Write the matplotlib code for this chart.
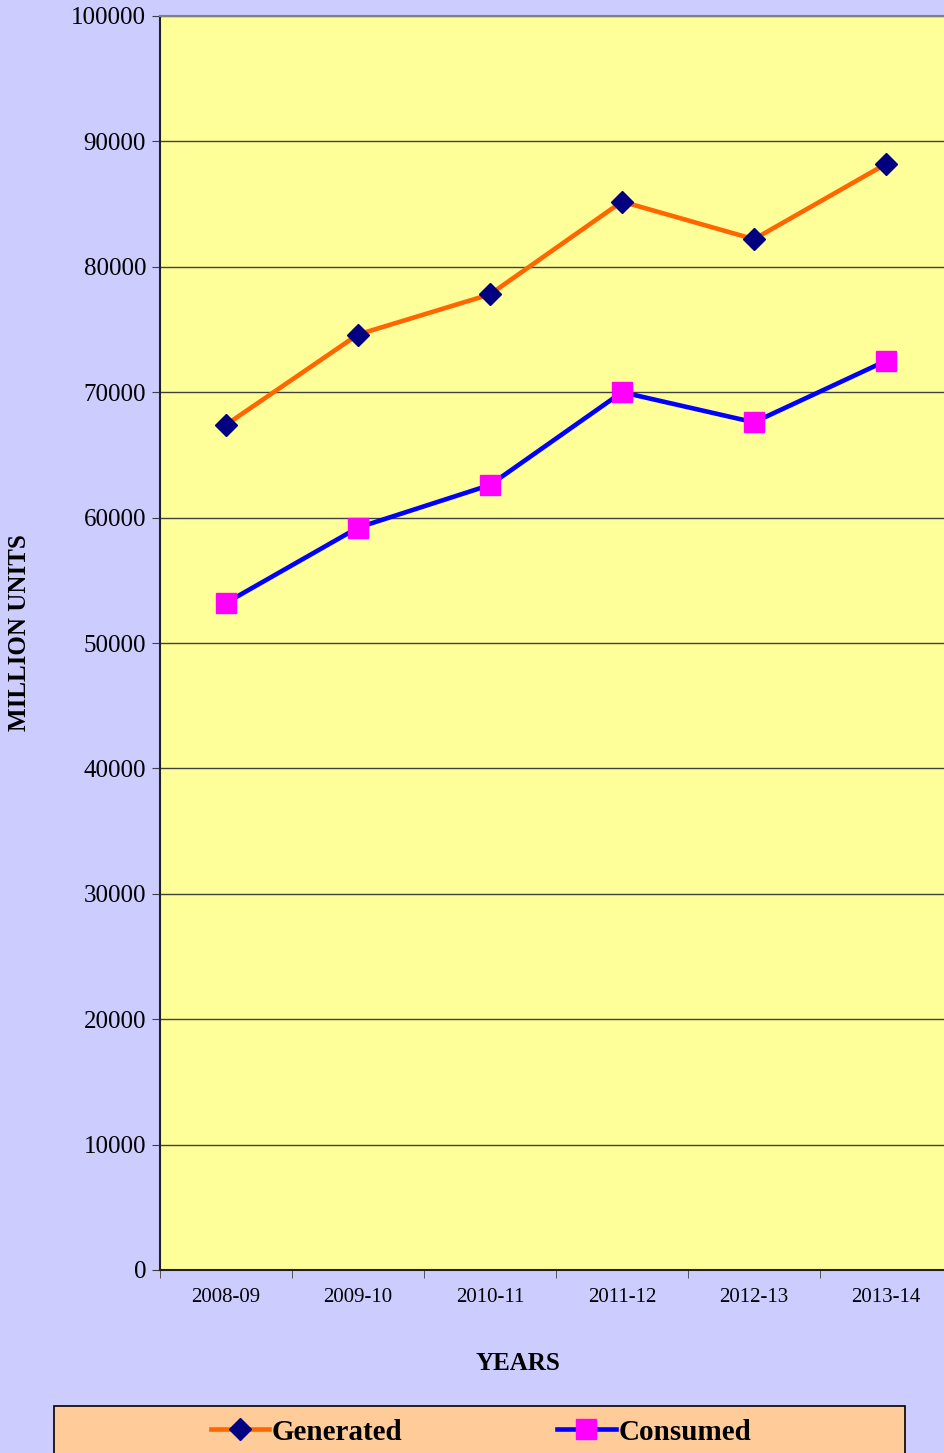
import matplotlib
matplotlib.use("Agg")
import matplotlib.pyplot as plt
from matplotlib.lines import Line2D
from matplotlib.patches import Rectangle

years = ["2008-09", "2009-10", "2010-11", "2011-12", "2012-13", "2013-14"]
generated = [67400, 74600, 77800, 85200, 82200, 88200]
consumed = [53200, 59200, 62600, 70000, 67600, 72500]
yticks = list(range(0, 100001, 10000))

BG = "#CCCCFF"
PLOT_BG = "#FFFF99"
LEG_BG = "#FFCC99"
plt.rcParams["font.family"] = ["Liberation Serif", "DejaVu Serif"]

W, H = 945, 1453
f = plt.figure(figsize=(W / 100, H / 100), dpi=100)
f.patch.set_facecolor(BG)
ax = f.add_axes([160 / W, (H - 1270) / H, 792 / W, 1254 / H])
ax.set_facecolor(PLOT_BG)

x = list(range(len(years)))
ax.plot(x, generated, color="#FF6600", lw=3.3, marker="D", ms=11,
        mfc="#000080", mec="#000080", zorder=3, clip_on=False)
ax.plot(x, consumed, color="#0000FF", lw=3.3, marker="s", ms=14.2,
        mfc="#FF00FF", mec="#FF00FF", zorder=3, clip_on=False)

ax.set_xlim(-0.5, len(years) - 0.5)
ax.set_ylim(0, 100000)
ax.set_yticks(yticks)
ax.set_yticklabels([str(v) for v in yticks], fontsize=18)
ax.set_xticks(x)
ax.set_xticklabels(years, fontsize=15)
ax.set_xticks([i - 0.5 for i in range(len(years) + 1)], minor=True)
ax.tick_params(axis="x", which="major", length=0, pad=13)
ax.tick_params(axis="x", which="minor", length=6, color="#404040", direction="out")
ax.tick_params(axis="y", length=6, color="#404040", direction="out", pad=4)
ax.grid(axis="y", color="#404040", lw=1.0)
ax.set_axisbelow(True)
for s in ("top", "right"):
    ax.spines[s].set_color("#808080")
    ax.spines[s].set_linewidth(1.5)
for s in ("left", "bottom"):
    ax.spines[s].set_color("#202020")
    ax.spines[s].set_linewidth(1.5)

f.text(518 / W, 1 - 1364 / H, "YEARS", fontsize=18, fontweight="bold",
       ha="center", va="center")
f.text(20 / W, 1 - 633 / H, "MILLION UNITS", fontsize=18, fontweight="bold",
       ha="center", va="center", rotation=90)

# legend box runs off the bottom edge, like the source
f.patches.append(Rectangle((54 / W, -0.02), 851 / W, 0.02 + (H - 1406) / H,
                           transform=f.transFigure, facecolor=LEG_BG,
                           edgecolor="#000000", lw=1.2, zorder=1))
handles = [
    Line2D([0], [0], color="#FF6600", lw=3.3, marker="D", ms=11,
           mfc="#000080", mec="#000080", label="Generated"),
    Line2D([0], [0], color="#0000FF", lw=3.3, marker="s", ms=14.2,
           mfc="#FF00FF", mec="#FF00FF", label="Consumed"),
]
lg = f.legend(handles=handles, loc="center", ncol=2,
              bbox_to_anchor=(481 / W, 1 - 1432 / H),
              prop={"family": ["Liberation Serif"], "weight": "bold", "size": 21},
              handlelength=2.0, handletextpad=0.1, borderpad=0,
              columnspacing=5.3, frameon=False)
lg.set_zorder(2)

f.savefig("out.png", dpi=100, facecolor=BG)
